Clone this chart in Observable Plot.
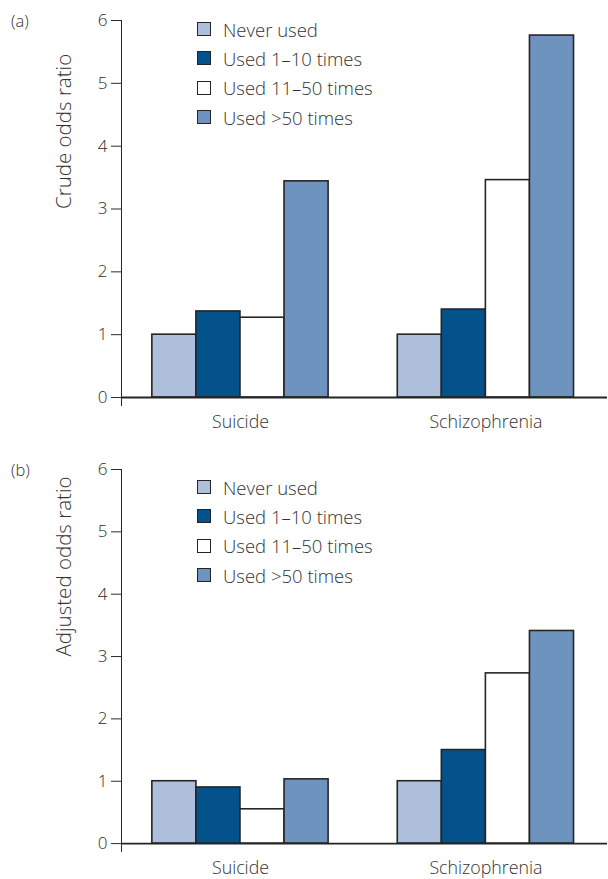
<!DOCTYPE html>
<html>
<head>
<meta charset="utf-8">
<script src="https://cdn.jsdelivr.net/npm/d3@7"></script>
<script src="https://cdn.jsdelivr.net/npm/@observablehq/plot@0.6"></script>
<style>
  html, body { margin: 0; padding: 0; background: #fff; }
  body { width: 608px; font-family: "Open Sans", "Noto Sans", sans-serif; color: #333; }
  .panel { position: relative; width: 608px; }
  .tag { position: absolute; left: 11px; font-size: 16.5px; font-weight: 300; color: #333; }
  .legend { position: absolute; left: 197px; }
  .row { display: flex; align-items: center; height: 29.3px; font-size: 18.5px; font-weight: 300; color: #333; }
  .sw { width: 12px; height: 12px; border: 1.6px solid #252525; margin-right: 12px; box-sizing: content-box; }
  svg { display: block; }
</style>
</head>
<body>
<div id="a" class="panel" style="height:440px"></div>
<div id="b" class="panel" style="height:439px"></div>
<script>
// ---- data ----
const groups = ["Suicide", "Schizophrenia"];
const categories = ["Never used", "Used 1\u201310 times", "Used 11\u201350 times", "Used >50 times"];
const colors = ["#adbfdb", "#03528b", "#ffffff", "#6f93bf"];
const yTicks = [0, 1, 2, 3, 4, 5, 6];
// Crude odds ratio (panel a), one value per category
const crudeSuicide = [1.0, 1.37, 1.27, 3.44];
const crudeSchizophrenia = [1.0, 1.40, 3.46, 5.76];
// Adjusted odds ratio (panel b)
const adjustedSuicide = [1.0, 0.90, 0.55, 1.03];
const adjustedSchizophrenia = [1.0, 1.50, 2.73, 3.41];

const groupGap = 1.57; // gap between groups, in bar widths

function toRows(suicide, schizo) {
  const rows = [];
  [suicide, schizo].forEach((vals, gi) => {
    vals.forEach((v, ci) => rows.push({group: groups[gi], gi, category: categories[ci], ci, value: v}));
  });
  return rows;
}
const xStart = d => d.gi * (categories.length + groupGap) + d.ci;
const groupCenter = (g, gi) => gi * (categories.length + groupGap) + categories.length / 2;

function panel(container, tag, label, rows, opts) {
  const el = document.getElementById(container);
  const t = document.createElement("div");
  t.className = "tag"; t.textContent = tag; t.style.top = opts.tagTop + "px";
  el.appendChild(t);

  const chart = Plot.plot({
    width: 608,
    height: opts.height,
    marginLeft: 121,
    marginRight: 1,
    marginTop: opts.marginTop,
    marginBottom: opts.marginBottom,
    style: {fontFamily: "'Open Sans', 'Noto Sans', sans-serif", fontSize: "17px", fontWeight: 300, color: "#2a2a2a", background: "transparent", overflow: "visible"},
    x: {domain: [-0.7, 10.33], axis: null},
    y: {
      domain: [-0.127, 6],
      ticks: yTicks,
      tickSize: 10,
      tickPadding: 4,
      line: true,
      label: null,
      tickFormat: d => String(d)
    },
    color: {domain: categories, range: colors},
    marks: [
      Plot.rectY(rows, {
        x1: xStart,
        x2: d => xStart(d) + 1,
        y1: 0,
        y2: "value",
        fill: "category",
        stroke: "#252525",
        strokeWidth: 1.6
      }),
      Plot.ruleY([0], {stroke: "#252525", strokeWidth: 1.8}),
      Plot.text(groups, {
        x: groupCenter,
        y: () => 0,
        dy: 25,
        text: d => d,
        fontSize: 17.8,
        fill: "#333"
      }),
      Plot.text([label], {
        y: () => 3,
        frameAnchor: "left",
        rotate: -90,
        dx: -57,
        text: d => d,
        fontSize: 20.5,
        fill: "#333"
      })
    ]
  });
  el.appendChild(chart);

  const lg = document.createElement("div");
  lg.className = "legend"; lg.style.top = opts.legendTop + "px";
  categories.forEach((c, i) => {
    const r = document.createElement("div"); r.className = "row";
    const s = document.createElement("span"); s.className = "sw"; s.style.background = colors[i];
    const tx = document.createElement("span"); tx.textContent = c;
    r.appendChild(s); r.appendChild(tx); lg.appendChild(r);
  });
  el.appendChild(lg);
}

panel("a", "(a)", "Crude odds ratio", toRows(crudeSuicide, crudeSchizophrenia),
  {height: 440, marginTop: 20, marginBottom: 35, tagTop: 9, legendTop: 14.5});
panel("b", "(b)", "Adjusted odds ratio", toRows(adjustedSuicide, adjustedSchizophrenia),
  {height: 439, marginTop: 29, marginBottom: 28, tagTop: 18, legendTop: 32.5});
</script>
</body>
</html>
